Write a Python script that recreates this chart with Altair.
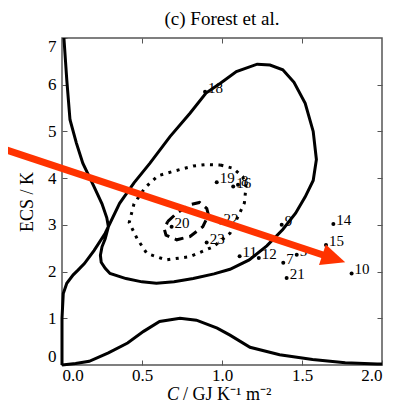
import altair as alt
import pandas as pd

# ---------------- data ----------------
# solid contour / marginal of ECS (one continuous polyline)
outer_x = [0.012, 0.03, 0.05, 0.09, 0.13, 0.20, 0.25, 0.28, 0.29, 0.27, 0.25, 0.24, 0.245, 0.27, 0.30, 0.40,
           0.50, 0.59, 0.70, 0.82, 0.95, 1.05, 1.17, 1.28, 1.38, 1.46, 1.52, 1.57, 1.59, 1.57, 1.52, 1.45,
           1.38, 1.30, 1.22, 1.09, 0.99, 0.90, 0.80, 0.675, 0.55, 0.45, 0.36, 0.27, 0.20, 0.14, 0.10, 0.07,
           0.03, 0.008, 0.0, 0.0]
outer_y = [7.0, 6.1, 5.25, 4.75, 4.32, 3.82, 3.45, 3.15, 2.96, 2.70, 2.53, 2.35, 2.20, 2.07, 1.96, 1.85,
           1.78, 1.75, 1.78, 1.85, 1.95, 2.05, 2.25, 2.55, 2.90, 3.25, 3.60, 3.95, 4.40, 5.00, 5.60, 6.05,
           6.32, 6.42, 6.44, 6.28, 6.03, 5.82, 5.39, 4.89, 4.32, 3.90, 3.46, 2.82, 2.45, 2.17, 2.03, 1.93,
           1.75, 1.53, 1.00, 0.0]

# marginal PDF of C along the bottom
marg_x = [0.0, 0.085, 0.17, 0.29, 0.41, 0.51, 0.61, 0.7375, 0.84, 0.97, 1.05, 1.175, 1.36, 1.566, 1.77, 1.97, 2.0]
marg_y = [0.0, 0.03, 0.08, 0.26, 0.47, 0.72, 0.93, 1.00, 0.96, 0.79, 0.64, 0.38, 0.22, 0.12, 0.05, 0.02, 0.02]

# dotted contour
dot_x = [0.99, 1.07, 1.13, 1.15, 1.14, 1.11, 1.05, 0.945, 0.80, 0.65, 0.53, 0.47, 0.42, 0.45, 0.52, 0.60, 0.70, 0.82, 0.90, 0.99]
dot_y = [4.28, 4.21, 4.03, 3.82, 3.47, 3.25, 2.82, 2.53, 2.32, 2.25, 2.39, 2.70, 3.05, 3.45, 3.80, 4.05, 4.15, 4.26, 4.29, 4.28]

# dashed contour
dash_x = [0.66, 0.717, 0.80, 0.86, 0.905, 0.915, 0.88, 0.80, 0.717, 0.65, 0.64, 0.66]
dash_y = [3.07, 3.25, 3.43, 3.48, 3.35, 3.21, 2.96, 2.75, 2.68, 2.78, 2.90, 3.07]

# model points
pt_label = ["18", "19", "16", "8", "20", "22", "23", "11", "12", "9", "7", "5", "14", "15", "10", "21"]
pt_x = [0.894, 0.967, 1.07, 1.10, 0.685, 0.99, 0.904, 1.11, 1.23, 1.373, 1.383, 1.467, 1.696, 1.65, 1.81, 1.404]
pt_y = [5.85, 3.91, 3.82, 3.86, 2.96, 3.05, 2.62, 2.33, 2.29, 3.00, 2.19, 2.36, 3.02, 2.57, 1.96, 1.86]

# red annotation arrow: start, end of shaft, tip
arrow_x = [-0.39, 1.651]
arrow_y = [4.65, 2.334]
tip_x = [1.77]
tip_y = [2.20]
arrow_angle = 18.3

x_ticks = [0.0, 0.5, 1.0, 1.5, 2.0]
y_ticks = [0, 1, 2, 3, 4, 5, 6, 7]

# ---------------- chart ----------------
SERIF = "Liberation Serif"
RED = "#ff3300"
FRAME = "#555555"

xs = alt.Scale(domain=[0, 2], nice=False, zero=False)
ys = alt.Scale(domain=[0, 7], nice=False, zero=False)


def curve_df(xv, yv):
    return pd.DataFrame({"x": xv, "y": yv, "i": list(range(len(xv)))})


ax_bottom = alt.Axis(orient="bottom", values=x_ticks, format=".1f", offset=-5, tickSize=5,
                     domain=False, grid=False, labelPadding=2, labelFont=SERIF, labelFontSize=17,
                     labelColor="black", tickColor=FRAME, title=None)
ax_left = alt.Axis(orient="left", values=y_ticks, format="d", offset=-5, tickSize=5,
                   domain=False, grid=False, labelPadding=6, labelFont=SERIF, labelFontSize=17,
                   labelColor="black", tickColor=FRAME, labelFlush=True,
                   title="ECS / K", titleFont=SERIF, titleFontSize=18, titleFontWeight="normal",
                   titleColor="black", titlePadding=11)
ax_top = alt.Axis(orient="top", values=[0.5, 1.0, 1.5], offset=-5, tickSize=5, labels=False,
                  domain=False, grid=False, tickColor=FRAME, title=None)
ax_right = alt.Axis(orient="right", values=[1, 2, 3, 4, 5, 6], offset=-5, tickSize=5, labels=False,
                    domain=False, grid=False, tickColor=FRAME, title=None)

solid = alt.Chart(curve_df(outer_x, outer_y)).mark_line(color="black", strokeWidth=3).encode(
    x=alt.X("x:Q", scale=xs, axis=ax_bottom),
    y=alt.Y("y:Q", scale=ys, axis=ax_left),
    order="i:Q",
)

marg = alt.Chart(curve_df(marg_x, marg_y)).mark_line(color="black", strokeWidth=3).encode(
    x=alt.X("x:Q", scale=xs, axis=None),
    y=alt.Y("y:Q", scale=ys, axis=None),
    order="i:Q",
)

dotted = alt.Chart(curve_df(dot_x, dot_y)).mark_line(color="black", strokeWidth=3, strokeDash=[3, 5.5]).encode(
    x=alt.X("x:Q", scale=xs, axis=None),
    y=alt.Y("y:Q", scale=ys, axis=None),
    order="i:Q",
)

dashed = alt.Chart(curve_df(dash_x, dash_y)).mark_line(color="black", strokeWidth=3, strokeDash=[9, 6]).encode(
    x=alt.X("x:Q", scale=xs, axis=None),
    y=alt.Y("y:Q", scale=ys, axis=None),
    order="i:Q",
)

pts_df = pd.DataFrame({"x": pt_x, "y": pt_y, "label": pt_label})
points = alt.Chart(pts_df).mark_circle(color="black", size=16, opacity=1).encode(
    x=alt.X("x:Q", scale=xs, axis=ax_top),
    y=alt.Y("y:Q", scale=ys, axis=ax_right),
)
labels = alt.Chart(pts_df).mark_text(font=SERIF, fontSize=15, align="left", baseline="middle",
                                     dx=3, dy=-4, color="black").encode(
    x=alt.X("x:Q", scale=xs, axis=None),
    y=alt.Y("y:Q", scale=ys, axis=None),
    text="label:N",
)

shaft = alt.Chart(curve_df(arrow_x, arrow_y)).mark_line(color=RED, strokeWidth=7, clip=False).encode(
    x=alt.X("x:Q", scale=xs, axis=None),
    y=alt.Y("y:Q", scale=ys, axis=None),
    order="i:Q",
)
head = alt.Chart(pd.DataFrame({"x": tip_x, "y": tip_y})).mark_point(
    shape="M0,0L-2,-0.9L-2,0.9Z", size=576, angle=arrow_angle, filled=True,
    color=RED, opacity=1, strokeWidth=0, clip=False).encode(
    x=alt.X("x:Q", scale=xs, axis=None),
    y=alt.Y("y:Q", scale=ys, axis=None),
)

xt1 = alt.Chart(pd.DataFrame({"t": ["C"]})).mark_text(
    font=SERIF, fontSize=18, fontStyle="italic", align="right", baseline="alphabetic", color="black").encode(
    text="t:N", x=alt.value(117), y=alt.value(362))
xt2 = alt.Chart(pd.DataFrame({"t": ["/ GJ K\u207b\u00b9 m\u207b\u00b2"]})).mark_text(
    font=SERIF, fontSize=18, align="left", baseline="alphabetic", color="black").encode(
    text="t:N", x=alt.value(121), y=alt.value(362))

chart = alt.layer(solid, marg, dotted, dashed, points, labels, shaft, head, xt1, xt2).resolve_axis(
    x="independent", y="independent"
).properties(
    width=320, height=327,
    padding={"left": 54, "top": 30, "right": 5, "bottom": 39},
    autosize=alt.AutoSizeParams(type="none"),
    title=alt.TitleParams("(c) Forest et al.", font=SERIF, fontSize=19, fontWeight="normal",
                          color="black", offset=3, anchor="middle"),
).configure_view(stroke=FRAME, strokeWidth=1.5)

chart.save("out.html", embed_options={"renderer": "svg", "actions": False})
